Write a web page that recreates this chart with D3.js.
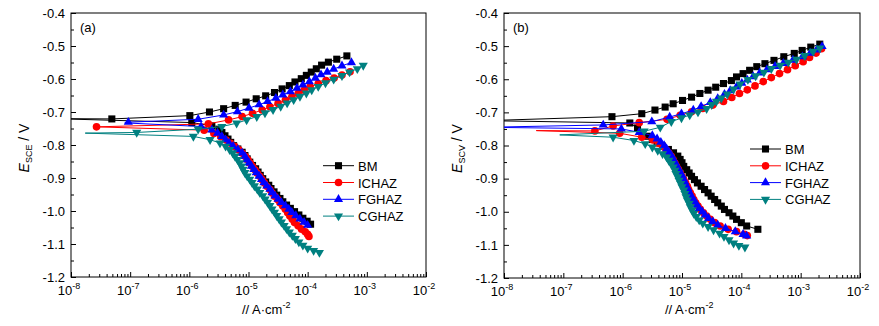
<!DOCTYPE html>
<meta charset="utf-8">
<head>
<script src="https://d3js.org/d3.v7.min.js"></script>
<style>
  body { margin: 0; background: #fff; }
  svg { font-family: "Liberation Sans", Arial, sans-serif; }
</style>
</head>
<body>
<svg width="879" height="326"></svg>
<script>

// ---- shared ----
var names  = ["BM", "ICHAZ", "FGHAZ", "CGHAZ"];
var colors = ["#000000", "#ff0000", "#0000ff", "#008080"];
var shapes = ["square", "circle", "triangle", "triangleDown"];
var yTicks = [-0.4, -0.5, -0.6, -0.7, -0.8, -0.9, -1.0, -1.1, -1.2];
var xTicks = [1e-8, 1e-7, 1e-6, 1e-5, 1e-4, 1e-3, 1e-2];
var xTickExp = ["-8", "-7", "-6", "-5", "-4", "-3", "-2"];

// ---- panel (a): points are [i (A/cm2), E (V)] ----
// Ecorr tip (line only) per series
var tipsA = [[5e-9, -0.720], [2.7e-8, -0.745], [8.1e-8, -0.733], [1.74e-8, -0.764]];

var bmAnodA = [[4.9e-8,-0.721],[1.02e-6,-0.711],[2.19e-6,-0.700],[3.8e-6,-0.690],[5.96e-6,-0.680],[9.1e-6,-0.670],
  [1.35e-5,-0.660],[1.95e-5,-0.651],[2.75e-5,-0.641],[3.7e-5,-0.630],[4.9e-5,-0.620],[6.1e-5,-0.609],[7.8e-5,-0.599],
  [9.5e-5,-0.589],[1.15e-4,-0.579],[1.4e-4,-0.569],[1.72e-4,-0.558],[2.24e-4,-0.549],[3.1e-4,-0.540],[4.6e-4,-0.530]];
var bmCathA = [[1.1e-6,-0.732],[2.4e-6,-0.742],[3.16e-6,-0.752],[3.55e-6,-0.762],[4.0e-6,-0.772],[4.5e-6,-0.782],
  [5.0e-6,-0.792],[5.6e-6,-0.802],[6.6e-6,-0.812],[7.8e-6,-0.822],[8.7e-6,-0.832],[9.5e-6,-0.842],[1.05e-5,-0.852],
  [1.17e-5,-0.862],[1.32e-5,-0.872],[1.45e-5,-0.882],[1.58e-5,-0.892],[1.74e-5,-0.902],[1.95e-5,-0.912],[2.2e-5,-0.922],
  [2.4e-5,-0.932],[2.7e-5,-0.942],[3.0e-5,-0.952],[3.4e-5,-0.962],[3.8e-5,-0.972],[4.4e-5,-0.982],[5.1e-5,-0.992],
  [6.0e-5,-1.002],[7.1e-5,-1.012],[8.3e-5,-1.022],[9.8e-5,-1.031],[1.12e-4,-1.040]];

var icAnodA = [[2.7e-8,-0.745],[2.1e-6,-0.736],[4.6e-6,-0.724],[7.8e-6,-0.714],[1.17e-5,-0.704],[1.7e-5,-0.694],
  [2.3e-5,-0.684],[3.16e-5,-0.674],[4.2e-5,-0.664],[5.4e-5,-0.654],[6.9e-5,-0.644],[8.7e-5,-0.634],[1.1e-4,-0.624],
  [1.51e-4,-0.614],[2.04e-4,-0.605],[2.8e-4,-0.597],[3.8e-4,-0.588],[5.2e-4,-0.578]];
var icCathA = [[1.78e-6,-0.755],[2.6e-6,-0.765],[3.4e-6,-0.775],[4.2e-6,-0.785],[5.0e-6,-0.795],[5.9e-6,-0.805],
  [6.9e-6,-0.815],[7.9e-6,-0.825],[8.9e-6,-0.835],[9.8e-6,-0.845],[1.07e-5,-0.855],[1.17e-5,-0.865],[1.29e-5,-0.875],
  [1.41e-5,-0.885],[1.55e-5,-0.895],[1.7e-5,-0.905],[1.86e-5,-0.915],[2.04e-5,-0.925],[2.3e-5,-0.935],[2.5e-5,-0.945],
  [2.75e-5,-0.955],[3.1e-5,-0.965],[3.4e-5,-0.975],[3.8e-5,-0.985],[4.2e-5,-0.995],[4.6e-5,-1.005],[5.0e-5,-1.015],
  [5.5e-5,-1.025],[6.0e-5,-1.035],[6.9e-5,-1.045],[7.9e-5,-1.055],[9.1e-5,-1.063],[1.0e-4,-1.071],[1.05e-4,-1.077]];

var fgAnodA = [[9.3e-8,-0.731],[1.41e-6,-0.722],[3.8e-6,-0.709],[6.5e-6,-0.699],[1.02e-5,-0.688],[1.51e-5,-0.678],
  [2.1e-5,-0.668],[2.9e-5,-0.658],[3.8e-5,-0.648],[5.1e-5,-0.638],[6.6e-5,-0.628],[8.3e-5,-0.618],[1.07e-4,-0.608],
  [1.35e-4,-0.597],[1.68e-4,-0.587],[2.14e-4,-0.579],[2.75e-4,-0.570],[3.8e-4,-0.560],[5.5e-4,-0.550]];
var fgCathA = [[1.58e-6,-0.744],[2.4e-6,-0.754],[3.0e-6,-0.764],[3.55e-6,-0.774],[4.1e-6,-0.784],[4.7e-6,-0.794],
  [5.5e-6,-0.804],[6.6e-6,-0.814],[7.8e-6,-0.824],[8.7e-6,-0.834],[9.3e-6,-0.844],[1.02e-5,-0.854],[1.12e-5,-0.864],
  [1.23e-5,-0.874],[1.35e-5,-0.884],[1.51e-5,-0.894],[1.66e-5,-0.904],[1.82e-5,-0.914],[2.04e-5,-0.924],[2.3e-5,-0.934],
  [2.5e-5,-0.944],[2.8e-5,-0.954],[3.16e-5,-0.964],[3.6e-5,-0.974],[4.2e-5,-0.984],[4.8e-5,-0.994],[5.4e-5,-1.004],
  [6.3e-5,-1.014],[7.4e-5,-1.024],[8.7e-5,-1.034],[1.0e-4,-1.043]];

var cgAnodA = [[1.29e-7,-0.762],[1.41e-6,-0.752],[3.55e-6,-0.744],[6.3e-6,-0.734],[9.3e-6,-0.724],[1.38e-5,-0.714],
  [1.9e-5,-0.703],[2.6e-5,-0.693],[3.5e-5,-0.683],[4.5e-5,-0.673],[5.8e-5,-0.663],[7.4e-5,-0.653],[9.5e-5,-0.643],
  [1.17e-4,-0.633],[1.51e-4,-0.623],[2.0e-4,-0.612],[2.75e-4,-0.601],[3.8e-4,-0.590],[5.1e-4,-0.579],[6.9e-4,-0.569],
  [8.7e-4,-0.559]];
var cgCathA = [[1.17e-6,-0.774],[2.24e-6,-0.784],[3.3e-6,-0.794],[4.1e-6,-0.804],[4.8e-6,-0.814],[5.4e-6,-0.824],
  [5.9e-6,-0.834],[6.5e-6,-0.844],[7.1e-6,-0.854],[7.6e-6,-0.864],[8.1e-6,-0.874],[8.7e-6,-0.884],[9.5e-6,-0.894],
  [1.05e-5,-0.904],[1.15e-5,-0.914],[1.26e-5,-0.924],[1.41e-5,-0.934],[1.55e-5,-0.944],[1.74e-5,-0.954],[1.91e-5,-0.964],
  [2.1e-5,-0.974],[2.3e-5,-0.984],[2.5e-5,-0.994],[2.75e-5,-1.004],[3.0e-5,-1.014],[3.3e-5,-1.024],[3.6e-5,-1.034],
  [4.0e-5,-1.044],[4.4e-5,-1.054],[4.9e-5,-1.064],[5.5e-5,-1.074],[6.2e-5,-1.084],[7.1e-5,-1.094],[8.3e-5,-1.104],
  [1.0e-4,-1.113],[1.26e-4,-1.120],[1.58e-4,-1.126]];

// ---- panel (b) ----
var tipsB = [[5e-9, -0.725], [3.5e-8, -0.755], [5e-9, -0.745], [8.7e-8, -0.768]];

var bmAnodB = [[6.6e-7,-0.713],[2.1e-6,-0.704],[3.5e-6,-0.693],[5.2e-6,-0.684],[7.1e-6,-0.674],[1.02e-5,-0.664],
  [1.45e-5,-0.654],[2.0e-5,-0.643],[2.75e-5,-0.633],[3.7e-5,-0.624],[5.0e-5,-0.613],[6.8e-5,-0.604],[8.3e-5,-0.593],
  [1.07e-4,-0.583],[1.38e-4,-0.573],[1.82e-4,-0.562],[2.5e-4,-0.553],[3.55e-4,-0.543],[5.2e-4,-0.532],[7.8e-4,-0.522],
  [1.06e-3,-0.513],[1.48e-3,-0.503],[2.1e-3,-0.494]];
var bmCathB = [[1.32e-6,-0.732],[1.78e-6,-0.747],[2.14e-6,-0.761],[2.6e-6,-0.772],[3.16e-6,-0.782],[3.8e-6,-0.792],
  [4.7e-6,-0.802],[5.9e-6,-0.812],[7.2e-6,-0.822],[8.5e-6,-0.832],[9.3e-6,-0.842],[1.0e-5,-0.852],[1.07e-5,-0.863],
  [1.2e-5,-0.873],[1.32e-5,-0.883],[1.45e-5,-0.893],[1.62e-5,-0.903],[1.82e-5,-0.913],[2.1e-5,-0.923],[2.4e-5,-0.933],
  [2.75e-5,-0.943],[3.1e-5,-0.953],[3.55e-5,-0.963],[4.0e-5,-0.973],[4.6e-5,-0.983],[5.2e-5,-0.993],[6.2e-5,-1.003],
  [7.2e-5,-1.013],[8.3e-5,-1.023],[1.0e-4,-1.033],[1.23e-4,-1.043],[1.9e-4,-1.053]];

var icAnodB = [[3.4e-7,-0.756],[6.9e-7,-0.741],[1.9e-6,-0.731],[5.6e-6,-0.721],[9.3e-6,-0.709],[1.45e-5,-0.698],
  [2.24e-5,-0.688],[3.3e-5,-0.678],[5.0e-5,-0.667],[6.9e-5,-0.655],[9.3e-5,-0.643],[1.26e-4,-0.632],[1.7e-4,-0.620],
  [2.34e-4,-0.607],[3.2e-4,-0.595],[4.4e-4,-0.583],[6.0e-4,-0.571],[8.1e-4,-0.559],[1.1e-3,-0.547],[1.41e-3,-0.534],
  [1.82e-3,-0.521],[2.24e-3,-0.508]];
var icCathB = [[8.9e-7,-0.763],[2.1e-6,-0.775],[3.2e-6,-0.783],[4.0e-6,-0.793],[4.7e-6,-0.803],[5.4e-6,-0.813],
  [6.0e-6,-0.823],[6.6e-6,-0.833],[7.1e-6,-0.843],[7.6e-6,-0.853],[8.1e-6,-0.863],[8.7e-6,-0.873],[9.3e-6,-0.883],
  [1.0e-5,-0.893],[1.07e-5,-0.903],[1.15e-5,-0.913],[1.23e-5,-0.923],[1.29e-5,-0.933],[1.38e-5,-0.943],[1.48e-5,-0.953],
  [1.58e-5,-0.963],[1.7e-5,-0.973],[1.86e-5,-0.983],[2.04e-5,-0.993],[2.3e-5,-1.003],[2.6e-5,-1.013],[3.0e-5,-1.023],
  [3.55e-5,-1.033],[4.4e-5,-1.043],[6.0e-5,-1.053],[8.3e-5,-1.060],[1.12e-4,-1.068],[1.26e-4,-1.072]];

var fgAnodB = [[4.7e-7,-0.738],[3.1e-6,-0.728],[6.2e-6,-0.714],[9.8e-6,-0.704],[1.55e-5,-0.693],[2.1e-5,-0.682],
  [3.0e-5,-0.670],[4.0e-5,-0.658],[5.2e-5,-0.645],[6.5e-5,-0.634],[8.3e-5,-0.623],[1.02e-4,-0.612],[1.26e-4,-0.602],
  [1.58e-4,-0.592],[2.04e-4,-0.581],[2.7e-4,-0.571],[3.7e-4,-0.561],[5.1e-4,-0.552],[7.4e-4,-0.542],[1.07e-3,-0.532],
  [1.45e-3,-0.521],[1.86e-3,-0.511],[2.3e-3,-0.501]];
var fgCathB = [[9.5e-7,-0.750],[1.9e-6,-0.760],[3.16e-6,-0.770],[3.8e-6,-0.780],[4.4e-6,-0.790],[5.0e-6,-0.800],
  [5.5e-6,-0.810],[6.0e-6,-0.820],[6.6e-6,-0.830],[7.1e-6,-0.840],[7.6e-6,-0.850],[8.1e-6,-0.860],[8.7e-6,-0.870],
  [9.3e-6,-0.880],[1.0e-5,-0.890],[1.05e-5,-0.900],[1.12e-5,-0.910],[1.17e-5,-0.920],[1.26e-5,-0.930],[1.32e-5,-0.940],
  [1.41e-5,-0.950],[1.51e-5,-0.960],[1.66e-5,-0.970],[1.78e-5,-0.980],[1.95e-5,-0.990],[2.2e-5,-1.000],[2.45e-5,-1.010],
  [2.8e-5,-1.020],[3.3e-5,-1.030],[4.0e-5,-1.040],[5.4e-5,-1.050],[7.9e-5,-1.060],[1.07e-4,-1.068],[1.23e-4,-1.073]];

var cgAnodB = [[2.3e-6,-0.757],[4.3e-6,-0.745],[6.6e-6,-0.728],[9.8e-6,-0.717],[1.35e-5,-0.708],[1.86e-5,-0.699],
  [2.6e-5,-0.689],[3.16e-5,-0.677],[3.8e-5,-0.667],[4.6e-5,-0.657],[5.8e-5,-0.645],[7.4e-5,-0.630],[9.5e-5,-0.615],
  [1.29e-4,-0.601],[1.74e-4,-0.590],[2.4e-4,-0.579],[3.2e-4,-0.568],[4.5e-4,-0.558],[6.2e-4,-0.549],[8.5e-4,-0.540],
  [1.17e-3,-0.529],[1.62e-3,-0.516],[2.1e-3,-0.506]];
var cgCathB = [[6.9e-7,-0.775],[1.55e-6,-0.785],[2.4e-6,-0.795],[3.16e-6,-0.805],[3.9e-6,-0.815],[4.7e-6,-0.825],
  [5.5e-6,-0.835],[6.0e-6,-0.845],[6.6e-6,-0.855],[7.1e-6,-0.865],[7.6e-6,-0.875],[7.9e-6,-0.885],[8.5e-6,-0.895],
  [8.9e-6,-0.905],[9.5e-6,-0.915],[1.0e-5,-0.925],[1.07e-5,-0.935],[1.12e-5,-0.945],[1.17e-5,-0.955],[1.23e-5,-0.965],
  [1.32e-5,-0.975],[1.38e-5,-0.985],[1.48e-5,-0.995],[1.58e-5,-1.005],[1.74e-5,-1.015],[1.95e-5,-1.025],[2.24e-5,-1.035],
  [2.75e-5,-1.045],[3.4e-5,-1.055],[4.3e-5,-1.065],[5.1e-5,-1.075],[6.2e-5,-1.085],[7.4e-5,-1.095],[9.1e-5,-1.102],
  [1.15e-4,-1.107]];

var svg = d3.select("svg");

function symbolFor(shape) {
  if (shape == "square") return d3.symbol().type(d3.symbolSquare).size(50)();
  if (shape == "circle") return d3.symbol().type(d3.symbolCircle).size(46)();
  return d3.symbol().type(d3.symbolTriangle).size(36)();
}

function drawPanel(p) {
  var x = d3.scaleLog().domain([1e-8, 1e-2]).range([p.left, p.right]);
  var y = d3.scaleLinear().domain([-1.2, -0.4]).range([p.bottom, p.top]);

  svg.append("clipPath").attr("id", "clip" + p.tag)
    .append("rect")
    .attr("x", p.left).attr("y", p.top)
    .attr("width", p.right - p.left).attr("height", p.bottom - p.top);

  var g = svg.append("g");

  // y axis, ticks pointing inward
  var minorY = d3.range(-1.15, -0.4, 0.1);
  g.append("g").attr("transform", "translate(" + p.left + ",0)")
    .call(d3.axisLeft(y).tickValues(minorY).tickSize(-3).tickFormat(""))
    .call(function(a) { a.select(".domain").remove(); });
  g.append("g").attr("transform", "translate(" + p.left + ",0)")
    .call(d3.axisLeft(y).tickValues(yTicks).tickSize(-5).tickPadding(6)
      .tickFormat(function(d) { return d.toFixed(1); }))
    .call(function(a) {
      a.select(".domain").remove();
      a.selectAll("text").attr("font-size", 13).attr("font-family", "Liberation Sans, Arial, sans-serif");
    });

  // x axis, log decades + minor ticks
  var minorX = [];
  xTicks.slice(0, -1).forEach(function(d) {
    for (var k = 2; k < 10; k++) minorX.push(d * k);
  });
  g.append("g").attr("transform", "translate(0," + p.bottom + ")")
    .call(d3.axisBottom(x).tickValues(minorX).tickSize(-3).tickFormat(""))
    .call(function(a) { a.select(".domain").remove(); });
  g.append("g").attr("transform", "translate(0," + p.bottom + ")")
    .call(d3.axisBottom(x).tickValues(xTicks).tickSize(-5).tickFormat(""))
    .call(function(a) { a.select(".domain").remove(); });

  var xl = g.append("g").selectAll("text").data(xTicks).enter().append("text")
    .attr("x", function(d) { return x(d) - 2; })
    .attr("y", p.bottom + 18)
    .attr("text-anchor", "middle")
    .attr("font-size", 13);
  xl.append("tspan").text("10");
  xl.append("tspan").attr("dy", -6).attr("font-size", 9)
    .text(function(d, i) { return xTickExp[i]; });

  // frame
  g.append("rect")
    .attr("x", p.left).attr("y", p.top)
    .attr("width", p.right - p.left).attr("height", p.bottom - p.top)
    .attr("fill", "none").attr("stroke", "#000").attr("stroke-width", 1);

  // series
  var line = d3.line().x(function(d) { return x(d[0]); }).y(function(d) { return y(d[1]); });
  var plot = g.append("g").attr("clip-path", "url(#clip" + p.tag + ")");
  p.series.forEach(function(s, k) {
    var pts = s.cath.slice().reverse().concat([p.tips[k]], s.anod);
    plot.append("path").datum(pts)
      .attr("d", line)
      .attr("fill", "none")
      .attr("stroke", colors[k])
      .attr("stroke-width", 1);
    plot.append("g").selectAll("path").data(s.cath.concat(s.anod)).enter().append("path")
      .attr("d", symbolFor(shapes[k]))
      .attr("transform", function(d) {
        return "translate(" + x(d[0]) + "," + y(d[1]) + ")" + (shapes[k] == "triangleDown" ? " rotate(180)" : "");
      })
      .attr("fill", colors[k]);
  });

  // legend
  var lg = g.append("g");
  names.forEach(function(n, k) {
    var ly = p.legendTop + k * 16.8;
    lg.append("line")
      .attr("x1", p.legendX).attr("x2", p.legendX + 31)
      .attr("y1", ly).attr("y2", ly)
      .attr("stroke", colors[k]).attr("stroke-width", 1);
    lg.append("path")
      .attr("d", symbolFor(shapes[k]))
      .attr("transform", "translate(" + (p.legendX + 15.5) + "," + ly + ")" + (shapes[k] == "triangleDown" ? " rotate(180)" : ""))
      .attr("fill", colors[k]);
    lg.append("text")
      .attr("x", p.legendX + 35).attr("y", ly + 5)
      .attr("font-size", 13)
      .text(n);
  });

  // panel letter
  g.append("text").attr("x", p.left + 9).attr("y", p.top + 19).attr("font-size", 13).text(p.letter);

  // y label
  var yl = g.append("text")
    .attr("transform", "translate(" + p.yLabelX + "," + ((p.top + p.bottom) / 2 + 3) + ") rotate(-90)")
    .attr("text-anchor", "middle")
    .attr("font-size", 14);
  yl.append("tspan").attr("font-style", "italic").text("E");
  yl.append("tspan").attr("font-size", 9).attr("dy", 3).text(p.sub);
  yl.append("tspan").attr("dy", -3).text(" / V");

  // x label
  var xt = g.append("text")
    .attr("x", p.xLabelX).attr("y", 314)
    .attr("font-size", 13);
  xt.append("tspan").text("// A\u00b7cm");
  xt.append("tspan").attr("dy", -6).attr("font-size", 9).text("-2");
}

drawPanel({
  tag: "a", letter: "(a)", sub: "SCE",
  left: 71, right: 426, top: 13, bottom: 277,
  yLabelX: 29, xLabelX: 242,
  legendX: 323, legendTop: 165.7,
  tips: tipsA,
  series: [
    { cath: bmCathA, anod: bmAnodA },
    { cath: icCathA, anod: icAnodA },
    { cath: fgCathA, anod: fgAnodA },
    { cath: cgCathA, anod: cgAnodA }
  ]
});

drawPanel({
  tag: "b", letter: "(b)", sub: "SCV",
  left: 504, right: 860, top: 13, bottom: 278,
  yLabelX: 462, xLabelX: 665,
  legendX: 750, legendTop: 149,
  tips: tipsB,
  series: [
    { cath: bmCathB, anod: bmAnodB },
    { cath: icCathB, anod: icAnodB },
    { cath: fgCathB, anod: fgAnodB },
    { cath: cgCathB, anod: cgAnodB }
  ]
});

</script>
</body>
